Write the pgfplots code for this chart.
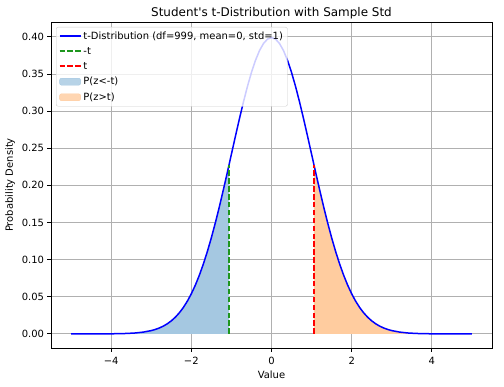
\documentclass[border=0pt]{standalone}
\usepackage{fontspec}
\setmainfont{DejaVu Sans}
\usepackage{pgfplots}
\pgfplotsset{compat=1.18}
\definecolor{gridc}{HTML}{B0B0B0}
\definecolor{fblue}{RGB}{165,200,225}
\definecolor{forange}{RGB}{255,204,159}
\definecolor{legc}{HTML}{CCCCCC}
\definecolor{tgreen}{RGB}{30,150,30}
\begin{document}
\begin{tikzpicture}
\begin{axis}[
  scale only axis, width=441bp, height=326bp,
  xmin=-5.5, xmax=5.5, ymin=-0.019, ymax=0.42,
  xtick={-4,-2,0,2,4}, xticklabels={−4,−2,0,2,4},
  ytick={0,0.05,0.1,0.15,0.2,0.25,0.3,0.35,0.4},
  yticklabels={0.00,0.05,0.10,0.15,0.20,0.25,0.30,0.35,0.40},
  tick label style={font=\fontsize{10}{12}\selectfont},
  xticklabel style={yshift=-2bp},
  label style={font=\fontsize{10}{12}\selectfont},
  title style={font=\fontsize{12}{14}\selectfont, yshift=-6bp},
  title={Student\textquotesingle s t-Distribution with Sample Std},
  xlabel={Value}, ylabel={Probability Density},
  grid=major, major grid style={gridc, line width=0.8bp},
  tick align=outside, major tick length=3.5bp,
  tick style={black, line width=0.8bp},
  axis line style={line width=0.8bp},
  xtick pos=bottom, ytick pos=left,
  legend cell align=left,
  legend style={at={(rel axis cs:0,1)}, anchor=north west, xshift=5bp, yshift=-5bp,
    font=\fontsize{10}{12}\selectfont, draw=legc, fill=white, fill opacity=0.8, text opacity=1,
    rounded corners=2bp, row sep=2.5bp, inner sep=2.5bp},
]
\addplot[fill=fblue, draw=none, forget plot] coordinates {
(-5.0,0.0000015) (-4.5,0.000016) (-4.0,0.000134) (-3.8,0.000292) (-3.6,0.000612)
(-3.4,0.001232) (-3.2,0.002384) (-3.0,0.004432) (-2.9,0.005953) (-2.8,0.007915)
(-2.7,0.010421) (-2.6,0.013583) (-2.5,0.017528) (-2.4,0.022395) (-2.3,0.028327)
(-2.2,0.035475) (-2.1,0.043984) (-2.0,0.053991) (-1.9,0.065616) (-1.8,0.078950)
(-1.7,0.094049) (-1.6,0.110921) (-1.5,0.129518) (-1.4,0.149727) (-1.3,0.171369)
(-1.2,0.194186) (-1.1,0.217852) (-1.06,0.227460)
} \closedcycle;
\addplot[fill=forange, draw=none, forget plot] coordinates {
(1.06,0.227460) (1.1,0.217852) (1.2,0.194186) (1.3,0.171369) (1.4,0.149727)
(1.5,0.129518) (1.6,0.110921) (1.7,0.094049) (1.8,0.078950) (1.9,0.065616)
(2.0,0.053991) (2.1,0.043984) (2.2,0.035475) (2.3,0.028327) (2.4,0.022395)
(2.5,0.017528) (2.6,0.013583) (2.7,0.010421) (2.8,0.007915) (2.9,0.005953)
(3.0,0.004432) (3.2,0.002384) (3.4,0.001232) (3.6,0.000612) (3.8,0.000292)
(4.0,0.000134) (4.5,0.000016) (5.0,0.0000015)
} \closedcycle;
\addplot[blue, line width=1.5bp, line join=round, forget plot] coordinates {
(-5.0,0.0000015) (-4.5,0.000016) (-4.0,0.000134) (-3.8,0.000292) (-3.6,0.000612)
(-3.4,0.001232) (-3.2,0.002384) (-3.0,0.004432) (-2.9,0.005953) (-2.8,0.007915)
(-2.7,0.010421) (-2.6,0.013583) (-2.5,0.017528) (-2.4,0.022395) (-2.3,0.028327)
(-2.2,0.035475) (-2.1,0.043984) (-2.0,0.053991) (-1.9,0.065616) (-1.8,0.078950)
(-1.7,0.094049) (-1.6,0.110921) (-1.5,0.129518) (-1.4,0.149727) (-1.3,0.171369)
(-1.2,0.194186) (-1.1,0.217852) (-1.0,0.241971) (-0.9,0.266085) (-0.8,0.289692)
(-0.7,0.312254) (-0.6,0.333225) (-0.5,0.352065) (-0.4,0.368270) (-0.3,0.381388)
(-0.2,0.391043) (-0.1,0.396953) (0,0.398942) (0.1,0.396953) (0.2,0.391043)
(0.3,0.381388) (0.4,0.368270) (0.5,0.352065) (0.6,0.333225) (0.7,0.312254)
(0.8,0.289692) (0.9,0.266085) (1.0,0.241971) (1.1,0.217852) (1.2,0.194186)
(1.3,0.171369) (1.4,0.149727) (1.5,0.129518) (1.6,0.110921) (1.7,0.094049)
(1.8,0.078950) (1.9,0.065616) (2.0,0.053991) (2.1,0.043984) (2.2,0.035475)
(2.3,0.028327) (2.4,0.022395) (2.5,0.017528) (2.6,0.013583) (2.7,0.010421)
(2.8,0.007915) (2.9,0.005953) (3.0,0.004432) (3.2,0.002384) (3.4,0.001232)
(3.6,0.000612) (3.8,0.000292) (4.0,0.000134) (4.5,0.000016) (5.0,0.0000015)
};
\addplot[tgreen, line width=1.5bp, dash pattern=on 5.5bp off 2.4bp, forget plot] coordinates {(-1.06,0) (-1.06,0.227460)};
\addplot[red, line width=1.5bp, dash pattern=on 5.5bp off 2.4bp, forget plot] coordinates {(1.06,0) (1.06,0.227460)};
\addlegendimage{legend image code/.code={\draw[blue, line width=1.6bp] (0bp,0bp) -- (21bp,0bp);}}
\addlegendimage{legend image code/.code={\draw[draw=tgreen, line width=1.8bp, dash pattern=on 5.5bp off 2.4bp] (0bp,0.2bp) -- (21bp,0.2bp);}}
\addlegendimage{legend image code/.code={\draw[draw=red, line width=1.8bp, dash pattern=on 5.5bp off 2.4bp] (0bp,0.2bp) -- (21bp,0.2bp);}}
\addlegendimage{legend image code/.code={\fill[fblue] (0bp,-3.5bp) rectangle (21bp,3.5bp);}}
\addlegendimage{legend image code/.code={\fill[forange] (0bp,-3.5bp) rectangle (21bp,3.5bp);}}
\legend{t-Distribution (df=999{,} mean=0{,} std=1), -t, t, P(z<-t), P(z>t)}
\end{axis}
\path[use as bounding box] (-51bp,-39bp) rectangle (453bp,348bp);
\end{tikzpicture}
\end{document}
